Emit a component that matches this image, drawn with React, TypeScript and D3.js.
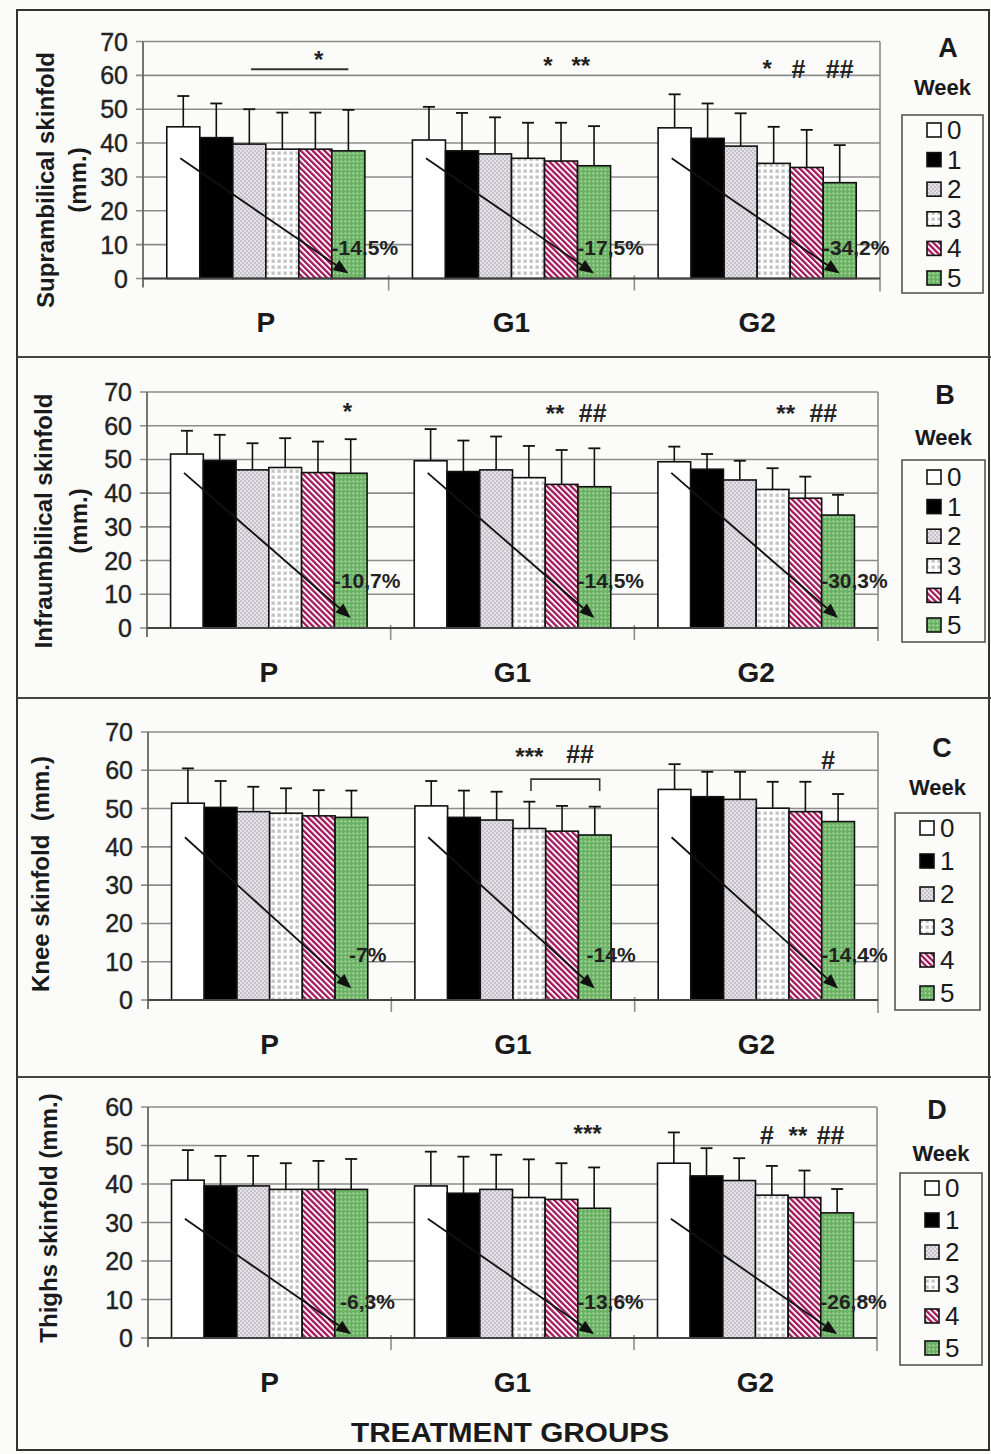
import React from 'react';
import * as d3 from 'd3';

const weeks = ['0', '1', '2', '3', '4', '5'];
const groups = ['P', 'G1', 'G2'];
const panelLetters = ['A', 'B', 'C', 'D'];
const yMaxes = [70, 70, 70, 60];
const yTitles = [
  ['Suprambilical skinfold', '(mm.)'],
  ['Infraumbilical skinfold', '(mm.)'],
  ['Knee skinfold  (mm.)'],
  ['Thighs skinfold (mm.)'],
];

// means per group (rows: P, G1, G2), columns: week 0..5
const meansA = [[44.8, 41.6, 39.7, 38.2, 38.2, 37.7], [40.9, 37.7, 36.8, 35.5, 34.7, 33.3], [44.5, 41.4, 39.1, 34.0, 32.8, 28.3]];
const sdA = [[9.1, 10.1, 10.3, 10.8, 10.8, 12.1], [9.8, 11.2, 10.8, 10.5, 11.3, 11.7], [9.9, 10.3, 9.7, 10.8, 11.1, 11.1]];
const meansB = [[51.6, 49.6, 46.9, 47.6, 46.1, 45.9], [49.6, 46.4, 46.9, 44.6, 42.6, 41.9], [49.3, 47.1, 43.9, 41.1, 38.5, 33.5]];
const sdB = [[6.9, 7.7, 7.9, 8.7, 9.2, 10.1], [9.4, 9.2, 9.9, 9.4, 10.2, 11.4], [4.5, 4.5, 5.7, 6.3, 6.4, 6.0]];
const meansC = [[51.4, 50.3, 49.2, 48.8, 48.1, 47.7], [50.7, 47.7, 47.0, 44.8, 44.1, 43.1], [55.0, 53.1, 52.4, 50.1, 49.2, 46.6]];
const sdC = [[9.1, 6.9, 6.5, 6.5, 6.7, 7.0], [6.5, 7.0, 7.4, 7.0, 6.6, 7.4], [6.6, 6.5, 7.2, 6.9, 7.8, 7.2]];
const meansD = [[41.0, 39.5, 39.5, 38.6, 38.6, 38.6], [39.5, 37.6, 38.6, 36.5, 36.0, 33.7], [45.4, 42.1, 40.9, 37.1, 36.5, 32.5]];
const sdD = [[7.8, 7.8, 7.8, 6.8, 7.4, 7.9], [8.9, 9.5, 9.0, 9.9, 9.4, 10.6], [8.0, 7.2, 5.8, 7.6, 7.0, 6.2]];

const pctA = ['-14.5%', '-17,5%', '-34,2%'];
const pctB = ['-10,7%', '-14,5%', '-30,3%'];
const pctC = ['-7%', '-14%', '-14,4%'];
const pctD = ['-6,3%', '-13,6%', '-26,8%'];

// value levels for the trend arrows [start, end] and for the % labels
const arrowLevels = [[35.5, 1.5], [46, 3], [42.5, 3], [31, 1]];
const pctLevels = [9.2, 14, 12, 9.5];

// significance marks: group index, week position (fractional), value level, text
const annA = [
  { g: 0, w: 4.1, v: 62.3, t: '*' },
  { g: 1, w: 3.6, v: 60.5, t: '*' },
  { g: 1, w: 4.6, v: 60.5, t: '**' },
  { g: 2, w: 2.8, v: 59.6, t: '*' },
  { g: 2, w: 3.75, v: 59.3, t: '#' },
  { g: 2, w: 5.0, v: 59.3, t: '##' },
];
const annB = [
  { g: 0, w: 4.9, v: 61.8, t: '*' },
  { g: 1, w: 3.8, v: 61.2, t: '**' },
  { g: 1, w: 4.95, v: 61.2, t: '##' },
  { g: 2, w: 3.4, v: 61.0, t: '**' },
  { g: 2, w: 4.55, v: 61.0, t: '##' },
];
const annC = [
  { g: 1, w: 3.0, v: 61.3, t: '***' },
  { g: 1, w: 4.55, v: 61.8, t: '##' },
  { g: 2, w: 4.7, v: 60.3, t: '#' },
];
const annD = [
  { g: 1, w: 4.8, v: 50.8, t: '***' },
  { g: 2, w: 2.85, v: 50.4, t: '#' },
  { g: 2, w: 3.8, v: 50.4, t: '**' },
  { g: 2, w: 4.8, v: 50.4, t: '##' },
];
// horizontal line (A, P) and bracket (C, G1): group, from week pos, to week pos, level, leg level
const lineA = [{ g: 0, w0: 2.55, w1: 5.5, v: 61.8, leg: null }];
const lineC = [{ g: 1, w0: 3.55, w1: 5.65, v: 57.7, leg: 54.6 }];

const weekFills = ['#ffffff', '#000000', 'url(#pat2)', 'url(#pat3)', 'url(#pat4)', 'url(#pat5)'];

const panelData = [
  { means: meansA, sds: sdA, pct: pctA, ann: annA, lines: lineA },
  { means: meansB, sds: sdB, pct: pctB, ann: annB, lines: [] },
  { means: meansC, sds: sdC, pct: pctC, ann: annC, lines: lineC },
  { means: meansD, sds: sdD, pct: pctD, ann: annD, lines: [] },
];

// pixel layout
const layouts = [
  { plotTop: 41.5, plotBottom: 278.5, left: 143, right: 880, titleX: [45, 77], titleY: 180,
    letterX: 948, letterY: 48, weekY: 87, boxL: 902, boxR: 983, boxT: 115, boxB: 293, item0: 130, step: 29.6 },
  { plotTop: 392, plotBottom: 628, left: 147, right: 878, titleX: [43, 78], titleY: 521,
    letterX: 945, letterY: 395, weekY: 437, boxL: 902, boxR: 985, boxT: 460, boxB: 642, item0: 477, step: 29.6 },
  { plotTop: 732, plotBottom: 1000, left: 148, right: 878, titleX: [40], titleY: 874,
    letterX: 942, letterY: 748, weekY: 787, boxL: 895, boxR: 980, boxT: 813, boxB: 1010, item0: 828, step: 33 },
  { plotTop: 1107, plotBottom: 1338, left: 148, right: 877, titleX: [48], titleY: 1218,
    letterX: 937, letterY: 1110, weekY: 1153, boxL: 900, boxR: 982, boxT: 1173, boxB: 1365, item0: 1188, step: 32 },
];

const FONT = '"Liberation Sans", Arial, sans-serif';

function Panel({ idx }: { idx: number }) {
  const L = layouts[idx];
  const D = panelData[idx];
  const yMax = yMaxes[idx];
  const y = d3.scaleLinear().domain([0, yMax]).range([L.plotBottom, L.plotTop]);
  const xg = d3.scaleBand().domain(groups).range([L.left, L.right]).padding(0);
  const xw = d3.scaleBand().domain(weeks).range([0, xg.bandwidth()]).paddingInner(0).paddingOuter(0.72);
  const bw = xw.bandwidth();
  const wpos = (gi: number, w: number) => (xg(groups[gi]) as number) + (xw('0') as number) + bw / 2 + w * xw.step();
  const ticks = y.ticks(yMax / 10);
  const grid = '#8c8c8c';

  return (
    <g>
      {ticks.map((t) => (
        <line key={'g' + t} x1={L.left - 7} x2={L.right} y1={y(t)} y2={y(t)} stroke={grid} strokeWidth={1.6} />
      ))}
      <line x1={L.right} x2={L.right} y1={L.plotTop} y2={L.plotBottom + 13} stroke={grid} strokeWidth={1.6} />
      <line x1={L.left} x2={L.left} y1={L.plotTop} y2={L.plotBottom + 9} stroke="#666" strokeWidth={1.8} />
      {groups.slice(1).map((g) => (
        <line key={'s' + g} x1={xg(g)} x2={xg(g)} y1={L.plotBottom - 3} y2={L.plotBottom + 12} stroke={grid} strokeWidth={1.6} />
      ))}
      {ticks.map((t) => (
        <text key={'t' + t} x={L.left - 15} y={y(t)} textAnchor="end" dominantBaseline="central"
          fontFamily={FONT} fontSize={25} fill="#222" stroke="#222" strokeWidth={0.4}>{t}</text>
      ))}
      {groups.map((g, gi) => (
        <g key={'bars' + g}>
          {weeks.map((w, wi) => {
            const x0 = (xg(g) as number) + (xw(w) as number);
            const m = D.means[gi][wi];
            const top = D.means[gi][wi] + D.sds[gi][wi];
            const cx = x0 + bw / 2;
            return (
              <g key={w}>
                <line x1={cx} x2={cx} y1={y(m)} y2={y(top)} stroke="#111" strokeWidth={1.6} />
                <line x1={cx - 6} x2={cx + 6} y1={y(top)} y2={y(top)} stroke="#111" strokeWidth={1.8} />
                <rect x={x0} y={y(m)} width={bw} height={y(0) - y(m)} fill={weekFills[wi]} stroke="#111" strokeWidth={1.6} />
              </g>
            );
          })}
        </g>
      ))}
      <line x1={L.left} x2={L.right} y1={L.plotBottom} y2={L.plotBottom} stroke="#444" strokeWidth={2} />
      {groups.map((g, gi) => {
        const x1 = wpos(gi, 0) - 3;
        const y1 = y(arrowLevels[idx][0]);
        const x2 = wpos(gi, 5);
        const y2 = y(arrowLevels[idx][1]);
        const ang = Math.atan2(y2 - y1, x2 - x1);
        const len = 15, half = 6;
        const bx = x2 - len * Math.cos(ang), by = y2 - len * Math.sin(ang);
        const px = -Math.sin(ang) * half, py = Math.cos(ang) * half;
        return (
          <g key={'ar' + g}>
            <line x1={x1} y1={y1} x2={bx} y2={by} stroke="#111" strokeWidth={1.8} />
            <polygon points={`${x2},${y2} ${bx + px},${by + py} ${bx - px},${by - py}`} fill="#111" />
          </g>
        );
      })}
      {groups.map((g, gi) => (
        <text key={'pc' + g} x={wpos(gi, 5) + bw / 2} y={y(pctLevels[idx])} textAnchor="middle" dominantBaseline="central"
          fontFamily={FONT} fontSize={21} fontWeight="bold" fill="#222">{D.pct[gi]}</text>
      ))}
      {D.lines.map((l: any, i: number) => {
        const a = wpos(l.g, l.w0) - bw / 2, b = wpos(l.g, l.w1) - bw / 2;
        return l.leg === null ? (
          <line key={'ln' + i} x1={a} x2={b} y1={y(l.v)} y2={y(l.v)} stroke="#333" strokeWidth={1.8} />
        ) : (
          <path key={'ln' + i} d={`M${a},${y(l.leg)}V${y(l.v)}H${b}V${y(l.leg)}`} fill="none" stroke="#333" strokeWidth={1.6} />
        );
      })}
      {D.ann.map((a: any, i: number) => (
        <text key={'an' + i} x={wpos(a.g, a.w)} y={y(a.v)} textAnchor="middle"
          fontFamily={FONT} fontSize={a.t.startsWith('#') ? 25 : 24} fontWeight="bold" fill="#222">{a.t}</text>
      ))}
      {groups.map((g) => (
        <text key={'gl' + g} x={(xg(g) as number) + xg.bandwidth() / 2} y={L.plotBottom + 44} textAnchor="middle"
          dominantBaseline="central" fontFamily={FONT} fontSize={28} fontWeight="bold" fill="#1a1a1a">{g}</text>
      ))}
      {yTitles[idx].map((t, i) => (
        <text key={'yt' + i} transform={`translate(${L.titleX[i]},${L.titleY}) rotate(-90)`} textAnchor="middle"
          dominantBaseline="central" fontFamily={FONT} fontSize={24} fontWeight="bold" fill="#1a1a1a"
          style={{ whiteSpace: 'pre' }}>{t}</text>
      ))}
      <text x={L.letterX} y={L.letterY} textAnchor="middle" dominantBaseline="central" fontFamily={FONT}
        fontSize={27} fontWeight="bold" fill="#1a1a1a">{panelLetters[idx]}</text>
      <text x={(L.boxL + L.boxR) / 2} y={L.weekY} textAnchor="middle" dominantBaseline="central" fontFamily={FONT}
        fontSize={22} fontWeight="bold" fill="#1a1a1a">Week</text>
      <rect x={L.boxL} y={L.boxT} width={L.boxR - L.boxL} height={L.boxB - L.boxT} fill="none" stroke="#555" strokeWidth={1.6} />
      {weeks.map((w, wi) => {
        const cy = L.item0 + wi * L.step;
        return (
          <g key={'lg' + w}>
            <rect x={L.boxL + 25} y={cy - 7} width={14} height={14} fill={weekFills[wi]} stroke="#111" strokeWidth={1.6} />
            <text x={L.boxL + 45} y={cy} dominantBaseline="central" fontFamily={FONT} fontSize={26} fill="#1a1a1a">{w}</text>
          </g>
        );
      })}
    </g>
  );
}

export default function App() {
  return (
    <svg width={991} height={1454} style={{ position: 'absolute', left: 0, top: 0, background: '#fbfbfa' }}>
      <defs>
        <pattern id="pat2" width="4" height="4" patternUnits="userSpaceOnUse">
          <rect width="4" height="4" fill="#e6e3e8" />
          <rect width="2" height="2" fill="#c6c0ca" />
          <rect x="2" y="2" width="2" height="2" fill="#c6c0ca" />
        </pattern>
        <pattern id="pat3" width="6" height="6" patternUnits="userSpaceOnUse">
          <rect width="6" height="6" fill="#ffffff" />
          <rect x="1.5" y="1.5" width="3.3" height="3.3" fill="#c2c2c2" />
        </pattern>
        <pattern id="pat4" width="4.2" height="4.2" patternUnits="userSpaceOnUse" patternTransform="rotate(-45)">
          <rect width="4.2" height="4.2" fill="#ffffff" />
          <rect width="2.3" height="4.2" fill="#a3185c" />
        </pattern>
        <pattern id="pat5" width="4" height="4" patternUnits="userSpaceOnUse">
          <rect width="4" height="4" fill="#69b263" />
          <rect x="0.5" y="0.5" width="1.8" height="1.8" fill="#b2dba8" />
        </pattern>
      </defs>
      <rect x={17} y={10} width={972} height={1440} fill="none" stroke="#333" strokeWidth={2} />
      {[357, 698, 1077].map((sy) => (
        <line key={sy} x1={17} x2={991} y1={sy} y2={sy} stroke="#444" strokeWidth={1.8} />
      ))}
      {[0, 1, 2, 3].map((i) => <Panel key={i} idx={i} />)}
      <text x={510} y={1433} textAnchor="middle" dominantBaseline="central" fontFamily={FONT} fontSize={27}
        fontWeight="bold" fill="#1a1a1a" textLength={318} lengthAdjust="spacingAndGlyphs">TREATMENT GROUPS</text>
    </svg>
  );
}
